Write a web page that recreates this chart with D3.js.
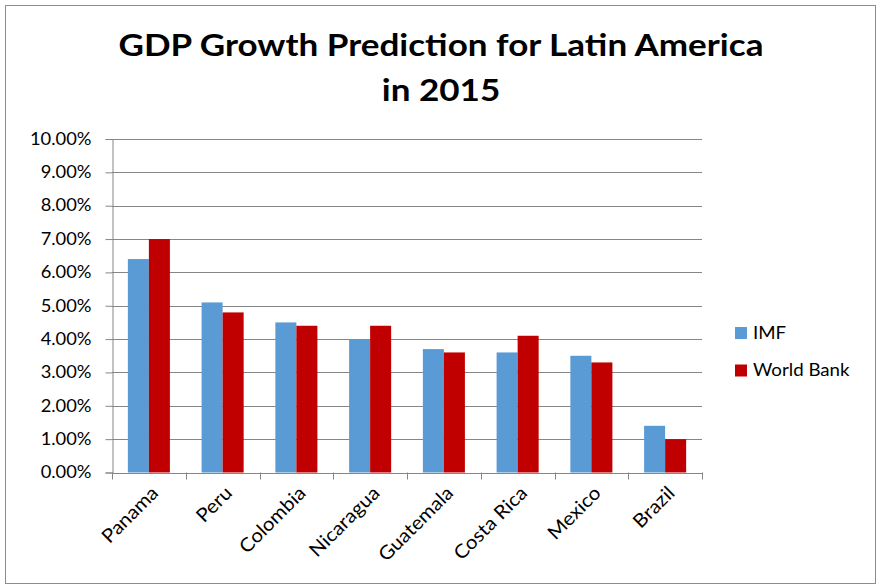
<!DOCTYPE html>
<html><head><meta charset="utf-8">
<script src="https://cdn.jsdelivr.net/npm/d3@7"></script>
<style>body{margin:0;background:#fff}svg{display:block}</style>
</head><body>
<script>
const categories = ["Panama","Peru","Colombia","Nicaragua","Guatemala","Costa Rica","Mexico","Brazil"];
const seriesNames = ["IMF","World Bank"];
const imfValues = [6.4,5.1,4.5,4.0,3.7,3.6,3.5,1.4];
const worldBankValues = [7.0,4.8,4.4,4.4,3.6,4.1,3.3,1.0];
const yTicks = [0,1,2,3,4,5,6,7,8,9,10];
const colors = ["#5B9BD5","#C00000"];
const titleLines = ["GDP Growth Prediction for Latin America","in 2015"];

const W=882,H=587;
const font="Lato, 'Open Sans', sans-serif";
function stretch(sel,f){sel.each(function(){const L=this.getComputedTextLength();d3.select(this).attr("textLength",L*f).attr("lengthAdjust","spacingAndGlyphs");});}

const svg=d3.select("body").append("svg").attr("width",W).attr("height",H);
svg.append("rect").attr("x",5.5).attr("y",5.5).attr("width",870).attr("height",578)
  .attr("fill","#fff").attr("stroke","#8c8c8c").attr("stroke-width",1);

const m={l:112,r:702,t:139,b:472.5};
const x=d3.scaleBand().domain(categories).range([m.l,m.r]).paddingInner(0.43).paddingOuter(0.215);
const xs=d3.scaleBand().domain(seriesNames).range([0,x.bandwidth()]);
const y=d3.scaleLinear().domain([0,10]).range([m.b,m.t]);

// gridlines
svg.append("g").selectAll("line").data(yTicks.filter(d=>d>0)).join("line")
  .attr("x1",m.l).attr("x2",m.r).attr("y1",d=>Math.round(y(d))+0.5).attr("y2",d=>Math.round(y(d))+0.5)
  .attr("stroke","#868686").attr("stroke-width",1);

// bars
const data=categories.map((c,i)=>({c,vals:[imfValues[i],worldBankValues[i]]}));
const g=svg.append("g").selectAll("g").data(data).join("g").attr("transform",d=>`translate(${x(d.c)},0)`);
g.selectAll("rect").data(d=>d.vals.map((v,j)=>({s:seriesNames[j],v,j}))).join("rect")
  .attr("x",d=>xs(d.s)).attr("width",xs.bandwidth())
  .attr("y",d=>y(d.v)).attr("height",d=>y(0)-y(d.v)).attr("fill",d=>colors[d.j]);

// y axis
const yAxis=d3.axisLeft(y).tickValues(yTicks).tickSize(7).tickPadding(14).tickFormat(d=>d.toFixed(2)+"%");
const ya=svg.append("g").attr("transform",`translate(${m.l+0.5},0)`).call(yAxis);
ya.select(".domain").attr("stroke","#868686");
ya.selectAll(".tick line").attr("stroke","#868686");
ya.selectAll(".tick text").attr("font-family",font).attr("font-size",16.5).attr("fill","#000").call(stretch,1.11);

// x axis
const edges=categories.map(c=>x(c)-x.step()*x.paddingInner()/2).concat([m.r]);
const xa=svg.append("g");
xa.append("line").attr("x1",m.l).attr("x2",m.r).attr("y1",Math.round(y(0))+0.5).attr("y2",Math.round(y(0))+0.5).attr("stroke","#868686");
xa.selectAll("line.t").data(edges).join("line").attr("class","t")
  .attr("x1",d=>Math.round(d)+0.5).attr("x2",d=>Math.round(d)+0.5)
  .attr("y1",y(0)).attr("y2",y(0)+7).attr("stroke","#868686");
xa.selectAll("text").data(categories).join("text")
  .attr("transform",c=>`translate(${x(c)+x.bandwidth()/2+6},${y(0)+17}) rotate(-45)`)
  .attr("text-anchor","end").attr("dy","0.35em")
  .attr("font-family",font).attr("font-size",19).attr("fill","#000").text(c=>c).call(stretch,1.08);

// title
svg.append("g").selectAll("text").data(titleLines).join("text")
  .attr("x",441).attr("y",(d,i)=>56+i*45).attr("text-anchor","middle")
  .attr("font-family",font).attr("font-weight","bold").attr("font-size",31).attr("fill","#000").text(d=>d).call(stretch,1.13);

// legend
const lg=svg.append("g").selectAll("g").data(seriesNames).join("g")
  .attr("transform",(d,i)=>`translate(735,${327+i*37.5})`);
lg.append("rect").attr("width",12).attr("height",12).attr("fill",(d,i)=>colors[i]);
lg.append("text").attr("x",18).attr("y",11.5).attr("font-family",font).attr("font-size",17).attr("fill","#000").text(d=>d).call(stretch,1.1);
</script>
</body></html>
